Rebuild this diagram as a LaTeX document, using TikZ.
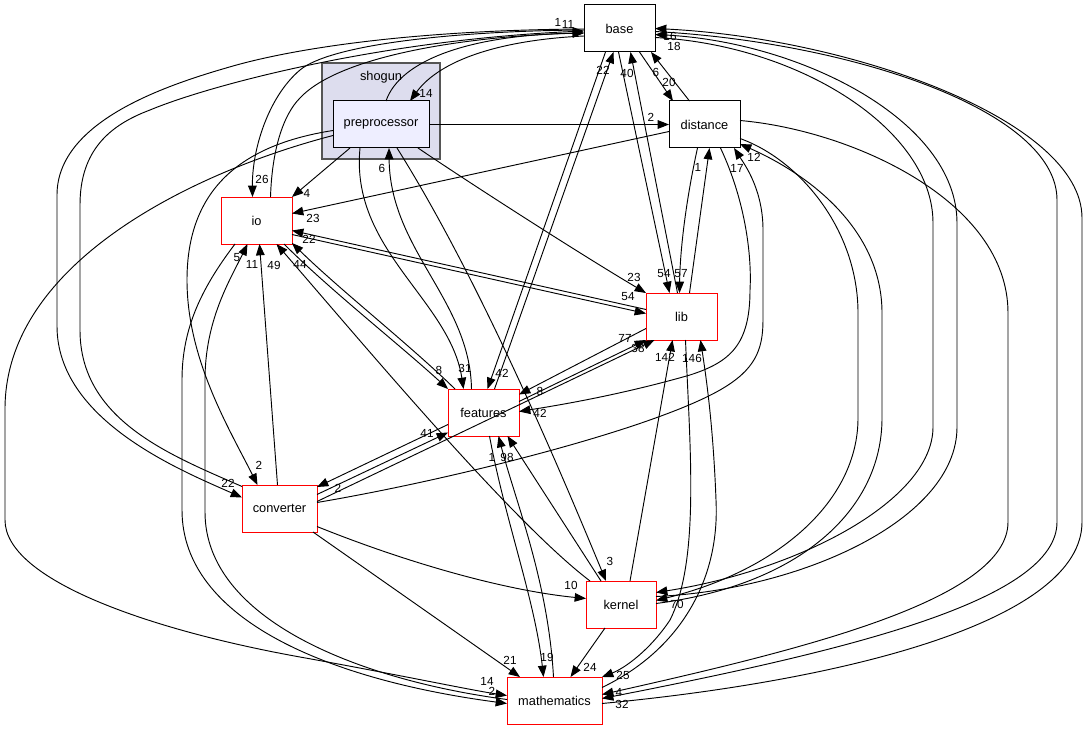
\documentclass[tikz,border=0pt]{standalone}
\usepackage{fontspec}
\setmainfont{Liberation Sans}
\usetikzlibrary{arrows.meta,calc}
\definecolor{clusterfill}{HTML}{DDDDEE}
\definecolor{clusterline}{HTML}{555555}
\definecolor{ppfill}{HTML}{EEEEFF}
\begin{document}
\begin{tikzpicture}[x=0.75pt,y=-0.75pt,
  box/.style={draw=black,line width=0.75pt,fill=white,inner sep=0pt,outer sep=0pt,minimum height=35.25pt,font=\fontsize{9.6}{11}\selectfont},
  redbox/.style={box,draw=red},
  dep/.style={line width=0.7pt,-{Triangle[length=8.5pt,width=6.5pt]}},
  lab/.style={inner sep=0pt,font=\fontsize{8.8}{10}\selectfont}]
\useasboundingbox[fill=white] (0,0) rectangle (1088,731);
% cluster
\draw[fill=clusterfill,draw=clusterline,line width=0.9pt] (322,63) rectangle (440,159);
\node[lab,font=\fontsize{9.6}{11}\selectfont] (shogunlbl) at (381,77) {shogun};
% nodes
\node[box,minimum width=53.25pt] (base) at (619.5,28.5) {base};
\node[box,fill=ppfill,minimum width=72pt] (pre) at (381,124.5) {preprocessor};
\node[box,minimum width=53.25pt] (dist) at (704.5,124.5) {distance};
\node[redbox,minimum width=53.25pt] (io) at (256.5,220.5) {io};
\node[redbox,minimum width=53.25pt] (lib) at (681.5,316.5) {lib};
\node[redbox,minimum width=53.25pt] (feat) at (483.5,412.5) {features};
\node[redbox,minimum width=56.25pt] (conv) at (279.5,508.5) {converter};
\node[redbox,minimum width=52.5pt] (kern) at (621,604.5) {kernel};
\node[redbox,minimum width=71.25pt] (math) at (554.5,700.5) {mathematics};

% base <-> io
\draw[dep] ($(base.west)+(0,1.5)$) .. controls (450,31) and (330,45) .. (300,70) .. controls (268,97) and (252,150) .. ($(io.north)+(-4,0)$);
\draw[dep] ($(io.north)+(14,0)$) .. controls (272,150) and (283,115) .. (300,98) .. controls (340,55) and (470,36) .. ($(base.west)+(0,4.5)$);
% base <-> converter
\draw[dep] ($(base.west)+(0,0.5)$) .. controls (420,30) and (300,47) .. (233,66) .. controls (170,84) and (57,120) .. (57,195) -- (57,326) .. controls (57,420) and (180,470) .. ($(conv.west)+(0,-11)$);
\draw[dep] ($(conv.west)+(0,-22)$) .. controls (170,455) and (80,420) .. (80,330) -- (80,205) .. controls (80,150) and (110,125) .. (150,110) .. controls (210,85) and (380,40) .. ($(base.west)+(0,2.5)$);
% base <-> preprocessor
\draw[dep] ($(base.west)+(0,7.5)$) .. controls (500,40) and (440,60) .. ($(pre.north)+(29,0)$);
\draw[dep] ($(pre.north)+(5,0)$) .. controls (400,60) and (470,35) .. ($(base.west)+(0,4.5)$);

% preprocessor edges
\draw[dep] ($(pre.west)+(0,6)$) .. controls (240,145) and (187,190) .. (187,280) .. controls (187,360) and (230,430) .. ($(conv.north)+(-22,0)$);
\draw[dep] ($(pre.west)+(0,11)$) .. controls (200,170) and (5,260) .. (5,409) -- (5,520) .. controls (5,580) and (150,630) .. (300,657) .. controls (400,675) and (470,690) .. ($(math.west)+(0,-5)$);
\draw[dep] ($(pre.south)+(-31,0)$) -- (io.north east);
\draw[dep] (pre.east) -- (dist.west);
\draw[dep] ($(pre.south)+(37,0)$) .. controls (480,190) and (590,260) .. (lib.north west);
\draw[dep] ($(pre.south)+(-21,0)$) .. controls (350,250) and (450,300) .. ($(feat.north)+(-20,0)$);
\draw[dep] ($(feat.north)+(-12,0)$) .. controls (470,300) and (390,250) .. ($(pre.south)+(8,0)$);
\draw[dep] ($(pre.south)+(16,0)$) .. controls (480,280) and (560,470) .. ($(kern.north)+(-15,0)$);

% distance edges
\draw[dep] ($(dist.west)+(0,7)$) -- ($(io.east)+(0,-7)$);
\draw[dep] ($(base.south)+(20,0)$) -- ($(dist.north west)+(4,0)$);
\draw[dep] ($(dist.north)+(-15,0)$) -- ($(base.south east)+(-4,0)$);
\draw[dep] ($(dist.south)+(-7,0)$) .. controls (686,200) and (680,250) .. ($(lib.north)+(-2,0)$);
\draw[dep] ($(lib.north)+(8,0)$) -- ($(dist.south)+(5,0)$);
\draw[dep] ($(dist.south)+(16,0)$) .. controls (745,200) and (752,255) .. (750,290) .. controls (750,345) and (730,362) .. (690,375) .. controls (620,395) and (560,405) .. ($(feat.east)+(0,-1)$);
\draw[dep] ($(dist.east)+(0,-4)$) .. controls (850,130) and (1008,200) .. (1008,313) -- (1008,522) .. controls (1008,600) and (800,650) .. ($(math.east)+(0,-6)$);
\draw[dep] ($(dist.east)+(0,14)$) .. controls (800,160) and (858,230) .. (858,313) -- (858,418) .. controls (858,500) and (780,570) .. ($(kern.east)+(0,-4)$);
\draw[dep] ($(kern.east)+(0,-1)$) .. controls (800,585) and (882,510) .. (882,418) -- (882,313) .. controls (882,230) and (810,175) .. ($(dist.south east)+(0,-4)$);

% base <-> lib, features
\draw[dep] ($(base.south)+(-1,0)$) -- ($(lib.north)+(-12,0)$);
\draw[dep] ($(lib.north)+(-4,0)$) -- ($(base.south)+(11,0)$);
\draw[dep] ($(base.south)+(-14,0)$) -- ($(feat.north)+(4,0)$);
\draw[dep] ($(feat.north)+(11,0)$) -- ($(base.south)+(-6,0)$);

% base <-> kernel
\draw[dep] ($(base.east)+(0,9)$) .. controls (800,45) and (933,130) .. (933,223) -- (933,427) .. controls (933,500) and (800,570) .. ($(kern.east)+(0,-12)$);
\draw[dep] ($(kern.east)+(0,-8)$) .. controls (800,590) and (957,520) .. (957,427) -- (957,223) .. controls (957,120) and (800,42) .. ($(base.east)+(0,6)$);
% base <-> mathematics
\draw[dep] ($(base.east)+(0,3)$) .. controls (850,42) and (1057,110) .. (1057,200) -- (1057,522) .. controls (1057,600) and (850,650) .. ($(math.east)+(0,-2)$);
\draw[dep] ($(math.east)+(0,3)$) .. controls (850,680) and (1082,620) .. (1082,522) -- (1082,218) .. controls (1082,120) and (850,38) .. (base.east);

% lib edges
\draw[dep] ($(lib.west)+(0,-7)$) -- ($(io.east)+(0,10)$);
\draw[dep] ($(io.east)+(0,14)$) -- ($(lib.west)+(0,-3)$);
\draw[dep] ($(lib.west)+(0,12)$) -- ($(feat.east)+(0,-18)$);
\draw[dep] ($(feat.east)+(0,-11)$) -- (lib.south west);
\draw[dep] ($(conv.east)+(0,-7)$) -- ($(lib.south)+(-27,0)$);
\draw[dep] ($(kern.north)+(9,0)$) -- ($(lib.south)+(-9,0)$);
\draw[dep] ($(lib.south)+(4,0)$) .. controls (690,450) and (700,560) .. (670,620) .. controls (650,650) and (625,668) .. (math.north east);
\draw[dep] ($(math.east)+(0,-13)$) .. controls (680,650) and (720,580) .. (716,500) .. controls (713,420) and (705,370) .. ($(lib.south)+(19,0)$);

% kernel edges
\draw[dep] ($(kern.north)+(-31,0)$) .. controls (510,520) and (360,340) .. ($(io.south)+(20,0)$);
\draw[dep] ($(kern.north)+(-20,0)$) -- ($(feat.south)+(24,0)$);
\draw[dep] ($(kern.south)+(-16,0)$) -- ($(math.north)+(16,0)$);

% converter edges
\draw[dep] ($(conv.north)+(-2,0)$) -- ($(io.south)+(3,0)$);
\draw[dep] ($(feat.west)+(0,12)$) -- ($(conv.north east)+(0,2)$);
\draw[dep] ($(conv.east)+(0,-14)$) -- ($(feat.west)+(0,20)$);
\draw[dep] ($(conv.east)+(0,-6)$) .. controls (450,480) and (650,430) .. (720,390) .. controls (755,370) and (763,350) .. (763,320) -- (763,230) .. controls (763,190) and (745,165) .. ($(dist.south east)+(-6,0)$);
\draw[dep] ($(conv.east)+(0,18)$) .. controls (400,560) and (500,590) .. ($(kern.west)+(0,-6)$);
\draw[dep] ($(conv.south east)+(-4,0)$) -- ($(math.north west)+(13,0)$);

% features <-> mathematics
\draw[dep] ($(feat.south)+(6,0)$) .. controls (505,520) and (535,600) .. ($(math.north)+(-11,0)$);
\draw[dep] ($(math.north)+(-1,0)$) .. controls (548,580) and (515,500) .. ($(feat.south)+(15,0)$);

% io <-> features
\draw[dep] ($(io.south east)+(-8,0)$) .. controls (330,290) and (400,345) .. (feat.north west);
\draw[dep] ($(feat.north west)+(7,0)$) .. controls (410,345) and (340,290) .. ($(io.south east)+(0,-1)$);

% io <-> mathematics
\draw[dep] ($(io.south west)+(14,0)$) .. controls (200,290) and (182,330) .. (182,380) -- (182,510) .. controls (182,620) and (330,680) .. ($(math.west)+(0,3)$);
\draw[dep] ($(math.west)+(0,-1)$) .. controls (360,680) and (205,620) .. (205,512) -- (205,380) .. controls (205,320) and (230,280) .. ($(io.south)+(-9,0)$);

% labels
\node[lab] (l1) at (558,22) {1};
\node[lab] (l2) at (568,24) {11};
\node[lab] (l3) at (262,179) {26};
\node[lab] (l4) at (426,93) {14};
\node[lab] (l5) at (670,36) {16};
\node[lab] (l6) at (674,46) {18};
\node[lab] (l7) at (603,70) {22};
\node[lab] (l8) at (627,73) {40};
\node[lab] (l9) at (656,72) {6};
\node[lab] (l10) at (669,82) {20};
\node[lab] (l11) at (651,117) {2};
\node[lab] (l12) at (307,193) {4};
\node[lab] (l13) at (313,218) {23};
\node[lab] (l14) at (309,239) {22};
\node[lab] (l15) at (237,258) {5};
\node[lab] (l16) at (252,264) {11};
\node[lab] (l17) at (274,265) {49};
\node[lab] (l18) at (300,264) {44};
\node[lab] (l19) at (382,168) {6};
\node[lab] (l20) at (634,277) {23};
\node[lab] (l21) at (664,274) {54};
\node[lab] (l22) at (681,274) {57};
\node[lab] (l23) at (698,167) {1};
\node[lab] (l24) at (737,168) {17};
\node[lab] (l25) at (754,157) {12};
\node[lab] (l26) at (628,297) {54};
\node[lab] (l27) at (625,338) {77};
\node[lab] (l28) at (638,348) {38};
\node[lab] (l29) at (665,357) {142};
\node[lab] (l30) at (692,358) {146};
\node[lab] (l31) at (439,370) {8};
\node[lab] (l32) at (465,368) {31};
\node[lab] (l33) at (502,373) {42};
\node[lab] (l34) at (540,391) {8};
\node[lab] (l35) at (540,413) {42};
\node[lab] (l36) at (427,433) {41};
\node[lab] (l37) at (492,457) {1};
\node[lab] (l38) at (507,457) {98};
\node[lab] (l39) at (259,465) {2};
\node[lab] (l40) at (228,483) {22};
\node[lab] (l41) at (338,488) {2};
\node[lab] (l42) at (610,561) {3};
\node[lab] (l43) at (571,585) {10};
\node[lab] (l44) at (677,604) {70};
\node[lab] (l45) at (510,660) {21};
\node[lab] (l46) at (547,657) {19};
\node[lab] (l47) at (590,667) {24};
\node[lab] (l48) at (623,675) {25};
\node[lab] (l49) at (487,681) {14};
\node[lab] (l50) at (492,691) {2};
\node[lab] (l51) at (619,692) {4};
\node[lab] (l52) at (622,704) {32};
\end{tikzpicture}
\end{document}
